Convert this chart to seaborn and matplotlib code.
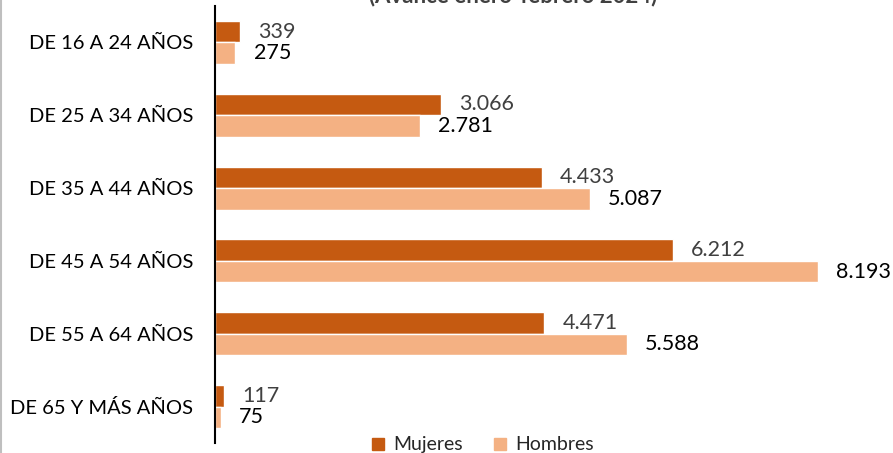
"""Paro registrado por grupo de edad y sexo (barras horizontales)."""

import matplotlib

matplotlib.use("Agg")

import matplotlib.pyplot as plt
import pandas as pd
import seaborn as sns
from matplotlib.lines import Line2D

# data
age_groups = [
    "DE 16 A 24 AÑOS",
    "DE 25 A 34 AÑOS",
    "DE 35 A 44 AÑOS",
    "DE 45 A 54 AÑOS",
    "DE 55 A 64 AÑOS",
    "DE 65 Y MÁS AÑOS",
]
mujeres = [339, 3066, 4433, 6212, 4471, 117]
hombres = [275, 2781, 5087, 8193, 5588, 75]
series_names = ["Mujeres", "Hombres"]
series_colors = ["#C55A11", "#F4B183"]
label_colors = ["#404040", "#000000"]
title_text = "(Avance enero-febrero 2024)"


def fmt_es(value: float) -> str:
    """Thousands separator with a dot, as in Spanish."""
    return f"{int(round(value)):,}".replace(",", ".")


df = pd.DataFrame(
    {
        "grupo": age_groups * 2,
        "sexo": [series_names[0]] * len(age_groups) + [series_names[1]] * len(age_groups),
        "valor": mujeres + hombres,
    }
)

sns.set_theme(style="white")
plt.rcParams["font.family"] = ["Lato", "DejaVu Sans"]

fig = plt.figure(figsize=(8.93, 4.53), dpi=100)
ax = fig.add_axes([0.241, 0.022, 0.742, 0.965])

sns.barplot(
    data=df,
    x="valor",
    y="grupo",
    hue="sexo",
    hue_order=series_names,
    order=age_groups,
    palette=series_colors,
    orient="h",
    width=0.59,
    saturation=1,
    errorbar=None,
    ax=ax,
)

for container, color in zip(ax.containers, label_colors):
    ax.bar_label(
        container,
        labels=[fmt_es(v) for v in container.datavalues],
        padding=13,
        fontsize=15.5,
        color=color,
    )

ax.set_xlim(0, 9000)
ax.set_ylim(5.5, -0.5)
ax.set_xlabel("")
ax.set_ylabel("")
ax.set_xticks([])
ax.tick_params(axis="y", length=0, pad=16, labelsize=14.5, labelcolor="#000000")
for side in ["top", "right", "bottom"]:
    ax.spines[side].set_visible(False)
ax.spines["left"].set_color("#000000")
ax.spines["left"].set_linewidth(1.5)

if ax.get_legend() is not None:
    ax.get_legend().remove()
handles = [
    Line2D([], [], marker="s", linestyle="", markersize=8, color=c) for c in series_colors
]
fig.legend(
    handles,
    series_names,
    loc="center",
    bbox_to_anchor=(0.54, 0.018),
    ncol=2,
    frameon=False,
    fontsize=14,
    handlelength=0.8,
    handletextpad=0.4,
    columnspacing=1.5,
    borderpad=0,
)

fig.text(
    0.575,
    1 - 2 / 453,
    title_text,
    ha="center",
    va="baseline",
    fontsize=16,
    fontweight="bold",
    color="#404040",
)

# thin frame line on the left edge, as in the source image
fig.add_artist(Line2D([0.001, 0.001], [0, 1], color="#BFBFBF", linewidth=1.5))

fig.savefig("out.png", dpi=100)
plt.close(fig)
